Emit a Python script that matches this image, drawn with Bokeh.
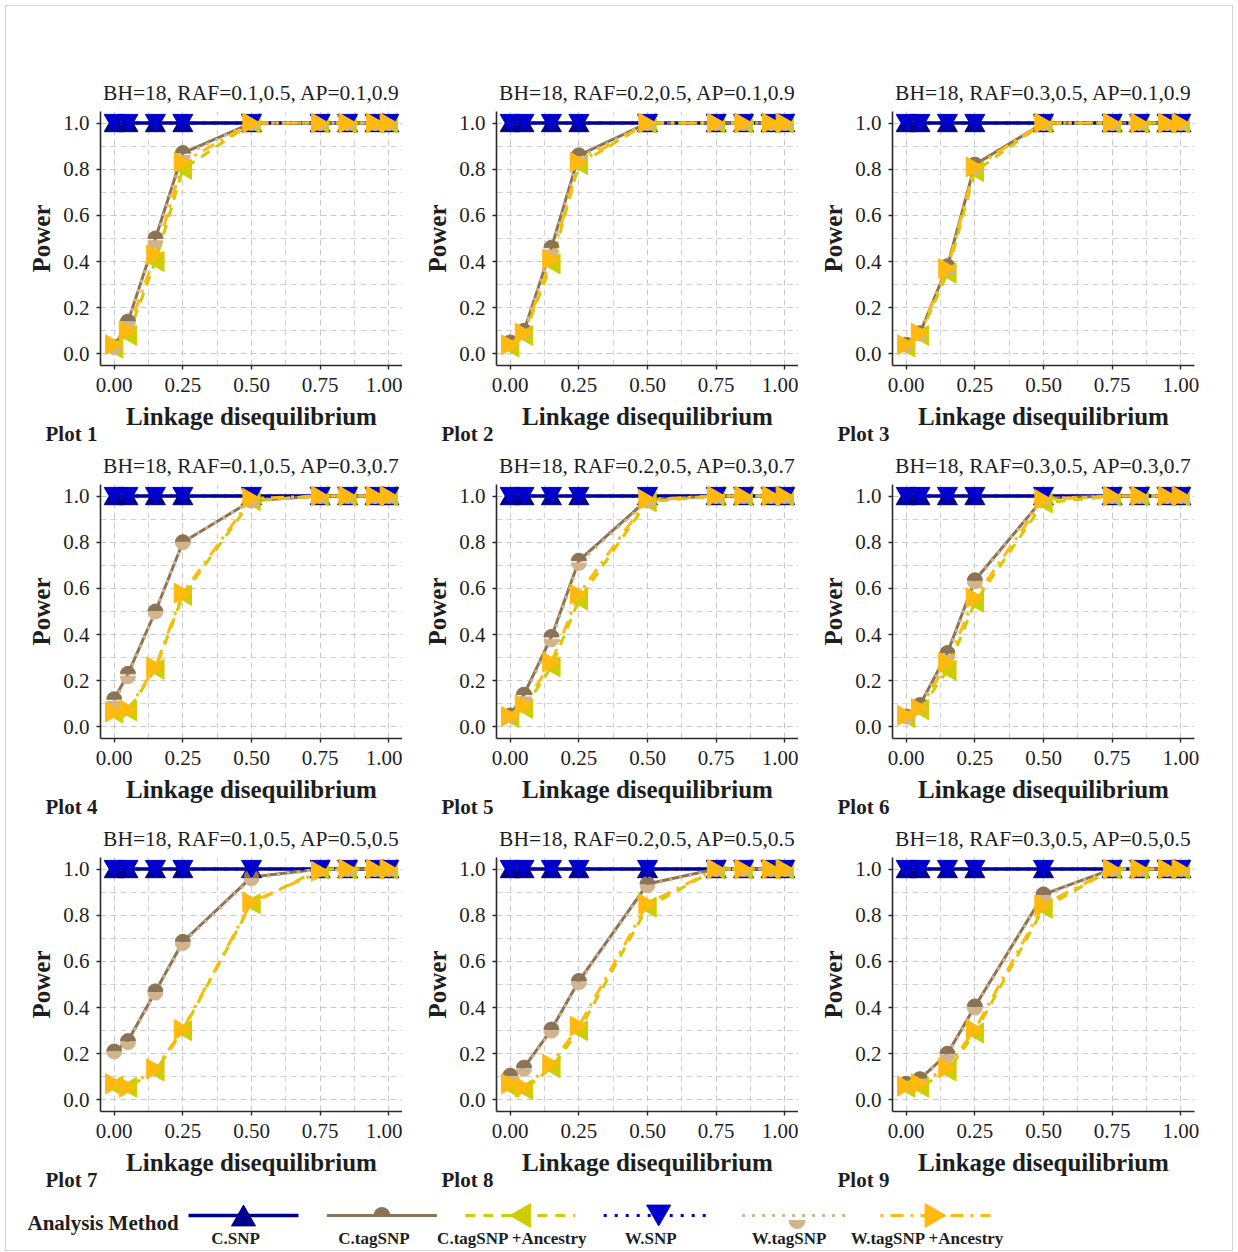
import numpy as np
from bokeh.plotting import figure
from bokeh.layouts import column, row
from bokeh.models import Range1d, FixedTicker, Label, Spacer, NumeralTickFormatter, Title
from bokeh.embed import file_html
from bokeh.resources import INLINE

FONT = "Liberation Serif"
TEXT = "#1e1e1e"

# ---------------- data ----------------
LD = [0.0, 0.05, 0.15, 0.25, 0.5, 0.75, 0.85, 0.95, 1.0]
RAF = ["0.1,0.5", "0.2,0.5", "0.3,0.5"]
AP = ["0.1,0.9", "0.3,0.7", "0.5,0.5"]
BH = 18

X_TICKS = [0.0, 0.25, 0.5, 0.75, 1.0]
X_MINOR = [0.125, 0.375, 0.625, 0.875]
Y_TICKS = [0.0, 0.2, 0.4, 0.6, 0.8, 1.0]
Y_MINOR = [0.1, 0.3, 0.5, 0.7, 0.9]

C_SNP = [[1.0, 1.0, 1.0, 1.0, 1.0, 1.0, 1.0, 1.0, 1.0] for _ in range(9)]
W_SNP = [[1.0, 1.0, 1.0, 1.0, 1.0, 1.0, 1.0, 1.0, 1.0] for _ in range(9)]

C_TAG = [
    [0.03, 0.14, 0.50, 0.87, 1.0, 1.0, 1.0, 1.0, 1.0],
    [0.05, 0.10, 0.46, 0.86, 1.0, 1.0, 1.0, 1.0, 1.0],
    [0.04, 0.09, 0.38, 0.82, 1.0, 1.0, 1.0, 1.0, 1.0],
    [0.12, 0.23, 0.50, 0.80, 0.98, 1.0, 1.0, 1.0, 1.0],
    [0.05, 0.14, 0.39, 0.72, 0.985, 1.0, 1.0, 1.0, 1.0],
    [0.045, 0.095, 0.32, 0.635, 0.99, 1.0, 1.0, 1.0, 1.0],
    [0.21, 0.255, 0.47, 0.685, 0.965, 1.0, 1.0, 1.0, 1.0],
    [0.105, 0.14, 0.305, 0.515, 0.935, 1.0, 1.0, 1.0, 1.0],
    [0.07, 0.09, 0.20, 0.405, 0.89, 1.0, 1.0, 1.0, 1.0],
]
C_ANC = [
    [0.025, 0.08, 0.40, 0.80, 1.0, 1.0, 1.0, 1.0, 1.0],
    [0.03, 0.08, 0.39, 0.82, 1.0, 1.0, 1.0, 1.0, 1.0],
    [0.03, 0.08, 0.35, 0.79, 1.0, 1.0, 1.0, 1.0, 1.0],
    [0.06, 0.07, 0.25, 0.57, 0.98, 1.0, 1.0, 1.0, 1.0],
    [0.04, 0.08, 0.26, 0.55, 0.975, 1.0, 1.0, 1.0, 1.0],
    [0.04, 0.075, 0.245, 0.54, 0.97, 1.0, 1.0, 1.0, 1.0],
    [0.06, 0.055, 0.125, 0.30, 0.85, 1.0, 1.0, 1.0, 1.0],
    [0.055, 0.045, 0.14, 0.30, 0.835, 1.0, 1.0, 1.0, 1.0],
    [0.055, 0.055, 0.125, 0.29, 0.83, 1.0, 1.0, 1.0, 1.0],
]
W_TAG = [
    [0.03, 0.14, 0.49, 0.86, 1.0, 1.0, 1.0, 1.0, 1.0],
    [0.05, 0.10, 0.45, 0.85, 1.0, 1.0, 1.0, 1.0, 1.0],
    [0.04, 0.09, 0.37, 0.81, 1.0, 1.0, 1.0, 1.0, 1.0],
    [0.11, 0.22, 0.50, 0.80, 0.98, 1.0, 1.0, 1.0, 1.0],
    [0.05, 0.13, 0.38, 0.71, 0.98, 1.0, 1.0, 1.0, 1.0],
    [0.045, 0.09, 0.31, 0.63, 0.99, 1.0, 1.0, 1.0, 1.0],
    [0.21, 0.25, 0.465, 0.68, 0.96, 1.0, 1.0, 1.0, 1.0],
    [0.10, 0.135, 0.30, 0.51, 0.93, 1.0, 1.0, 1.0, 1.0],
    [0.07, 0.09, 0.195, 0.40, 0.885, 1.0, 1.0, 1.0, 1.0],
]
W_ANC = [
    [0.04, 0.10, 0.43, 0.83, 1.0, 1.0, 1.0, 1.0, 1.0],
    [0.04, 0.09, 0.41, 0.83, 1.0, 1.0, 1.0, 1.0, 1.0],
    [0.04, 0.09, 0.37, 0.81, 1.0, 1.0, 1.0, 1.0, 1.0],
    [0.065, 0.075, 0.26, 0.58, 0.99, 1.0, 1.0, 1.0, 1.0],
    [0.045, 0.095, 0.28, 0.575, 0.985, 1.0, 1.0, 1.0, 1.0],
    [0.05, 0.08, 0.28, 0.56, 0.985, 1.0, 1.0, 1.0, 1.0],
    [0.07, 0.055, 0.135, 0.305, 0.857, 0.99, 1.0, 1.0, 1.0],
    [0.07, 0.055, 0.155, 0.32, 0.85, 1.0, 1.0, 1.0, 1.0],
    [0.06, 0.07, 0.14, 0.305, 0.845, 1.0, 1.0, 1.0, 1.0],
]

METHODS = ["C.SNP", "C.tagSNP", "C.tagSNP +Ancestry", "W.SNP", "W.tagSNP", "W.tagSNP +Ancestry"]
SERIES = [C_SNP, C_TAG, C_ANC, W_SNP, W_TAG, W_ANC]
COLORS = ["#00008B", "#8B7355", "#CDCD00", "#0000CD", "#D2B48C", "#FFB90F"]
DASHES = ["solid", "solid", "10 8", "3 8", "3 7", "3 7 13 7"]
WIDTHS = [3.5, 3.0, 3.0, 3.0, 3.0, 3.0]
MARKERS = ["up", "top_half", "left", "down", "bottom_half", "right"]

# ---------------- layout constants ----------------
ROW_H = 373
COL_W = [396, 396, 434]
MB_LEFT = 94
FRAME_W = 302
FRAME_H = 255
MB_TOP = 38
MB_BOTTOM = ROW_H - MB_TOP - FRAME_H
TOP_SPACE = 66
MSIZE = 20
HALF_R = 7.5
PX_X = FRAME_W / 1.1
PX_Y = FRAME_H / 1.1


def draw_marker(p, kind, x, y, color, sx, sy, size=MSIZE, r=HALF_R):
    x = np.asarray(x, dtype=float)
    y = np.asarray(y, dtype=float)
    sh = 0.866 * size / 6.0  # re-centre triangle on its bounding box
    kw = dict(size=size, fill_color=color, line_color=color)
    if kind == "up":
        p.scatter(x, y - sh / sy, marker="triangle", **kw)
    elif kind == "down":
        p.scatter(x, y + sh / sy, marker="inverted_triangle", **kw)
    elif kind == "left":
        p.scatter(x + sh / sx, y, marker="triangle", angle=np.pi / 2, **kw)
    elif kind == "right":
        p.scatter(x - sh / sx, y, marker="triangle", angle=-np.pi / 2, **kw)
    elif kind == "top_half":
        p.wedge(x, y, radius=r, radius_units="screen", start_angle=0, end_angle=np.pi,
                fill_color=color, line_color=color)
    elif kind == "bottom_half":
        p.wedge(x, y, radius=r, radius_units="screen", start_angle=np.pi, end_angle=2 * np.pi,
                fill_color=color, line_color=color)


def make_panel(i):
    r, c = divmod(i, 3)
    title = f"BH={BH}, RAF={RAF[c]}, AP={AP[r]}"
    p = figure(width=COL_W[c], height=ROW_H, x_range=Range1d(-0.05, 1.05), y_range=Range1d(-0.05, 1.05),
               output_backend="svg", toolbar_location=None, title=title,
               min_border_left=MB_LEFT, min_border_right=COL_W[c] - MB_LEFT - FRAME_W,
               min_border_top=MB_TOP, min_border_bottom=MB_BOTTOM)
    p.outline_line_color = None
    p.title.text_font = FONT
    p.title.text_font_size = "21.5px"
    p.title.text_font_style = "normal"
    p.title.text_color = TEXT
    p.title.align = "center"
    p.title.standoff = 13

    p.xaxis.ticker = FixedTicker(ticks=X_TICKS, minor_ticks=X_MINOR)
    p.yaxis.ticker = FixedTicker(ticks=Y_TICKS, minor_ticks=Y_MINOR)
    p.xaxis.formatter = NumeralTickFormatter(format="0.00")
    p.yaxis.formatter = NumeralTickFormatter(format="0.0")
    p.xaxis.axis_label = "Linkage disequilibrium"
    p.yaxis.axis_label = "Power"
    for ax in (p.xaxis[0], p.yaxis[0]):
        ax.axis_line_color = "#2a2a2a"
        ax.axis_line_width = 1.6
        ax.major_tick_line_color = "#2a2a2a"
        ax.major_tick_line_width = 1.4
        ax.major_tick_out = 4
        ax.major_tick_in = 0
        ax.minor_tick_line_color = None
        ax.major_label_text_font = FONT
        ax.major_label_text_font_size = "21px"
        ax.major_label_text_color = TEXT
        ax.axis_label_text_font = FONT
        ax.axis_label_text_font_size = "25px"
        ax.axis_label_text_font_style = "bold"
        ax.axis_label_text_color = TEXT
    p.xaxis.major_label_standoff = 8
    p.xaxis.axis_label_standoff = 8
    p.yaxis.major_label_standoff = 7
    p.yaxis.axis_label_standoff = 5

    for g in (p.xgrid[0], p.ygrid[0]):
        g.grid_line_color = "#c8c8c8"
        g.grid_line_dash = "6 4"
        g.grid_line_width = 1
        g.minor_grid_line_color = "#d2d2d2"
        g.minor_grid_line_dash = "6 4"
        g.minor_grid_line_width = 1

    for k in range(6):
        p.line(LD, SERIES[k][i], line_color=COLORS[k], line_width=WIDTHS[k], line_dash=DASHES[k])
    for k in range(6):
        draw_marker(p, MARKERS[k], LD, SERIES[k][i], COLORS[k], PX_X, PX_Y)

    p.add_layout(Title(text=f"Plot {i + 1}", align="left", offset=-55, standoff=-26,
                       text_font=FONT, text_font_size="21px", text_font_style="bold",
                       text_color=TEXT), "below")
    return p


panels = [make_panel(i) for i in range(9)]
rows = [row(*panels[3 * r:3 * r + 3]) for r in range(3)]

# ---------------- legend ----------------
LEG_W = sum(COL_W)
LEG_H = 59
lf = figure(width=LEG_W, height=LEG_H, x_range=Range1d(0, LEG_W), y_range=Range1d(LEG_H, 0),
            output_backend="svg", toolbar_location=None, x_axis_type=None, y_axis_type=None,
            min_border=0)
lf.outline_line_color = None
lf.grid.visible = False
KEY_Y = 24
LAB_Y = 47
KEY0 = 237
KEY_STEP = 138.4
KEY_HALF = 55
lf.add_layout(Label(x=21, y=KEY_Y + 7, text="Analysis Method", text_font=FONT, text_font_size="21px",
                    text_font_style="bold", text_color=TEXT, text_baseline="middle", text_align="left"))
for k in range(6):
    cx = KEY0 + k * KEY_STEP
    lf.line([cx - KEY_HALF, cx + KEY_HALF], [KEY_Y, KEY_Y], line_color=COLORS[k], line_width=WIDTHS[k],
            line_dash=DASHES[k])
    my = KEY_Y + (5 if MARKERS[k] == "bottom_half" else 0)
    draw_marker(lf, MARKERS[k], [cx], [my], COLORS[k], 1.0, -1.0, size=24, r=8)
    lf.add_layout(Label(x=cx - 8, y=LAB_Y, text=METHODS[k], text_font=FONT, text_font_size="17px",
                        text_font_style="bold", text_color=TEXT, text_baseline="middle", text_align="center"))

layout = column(Spacer(height=TOP_SPACE, width=LEG_W), *rows, lf,
                styles={"border": "1px solid #d4d4d4", "margin": "5px 0px 0px 5px"})

open("out.html", "w").write(file_html(layout, INLINE))
